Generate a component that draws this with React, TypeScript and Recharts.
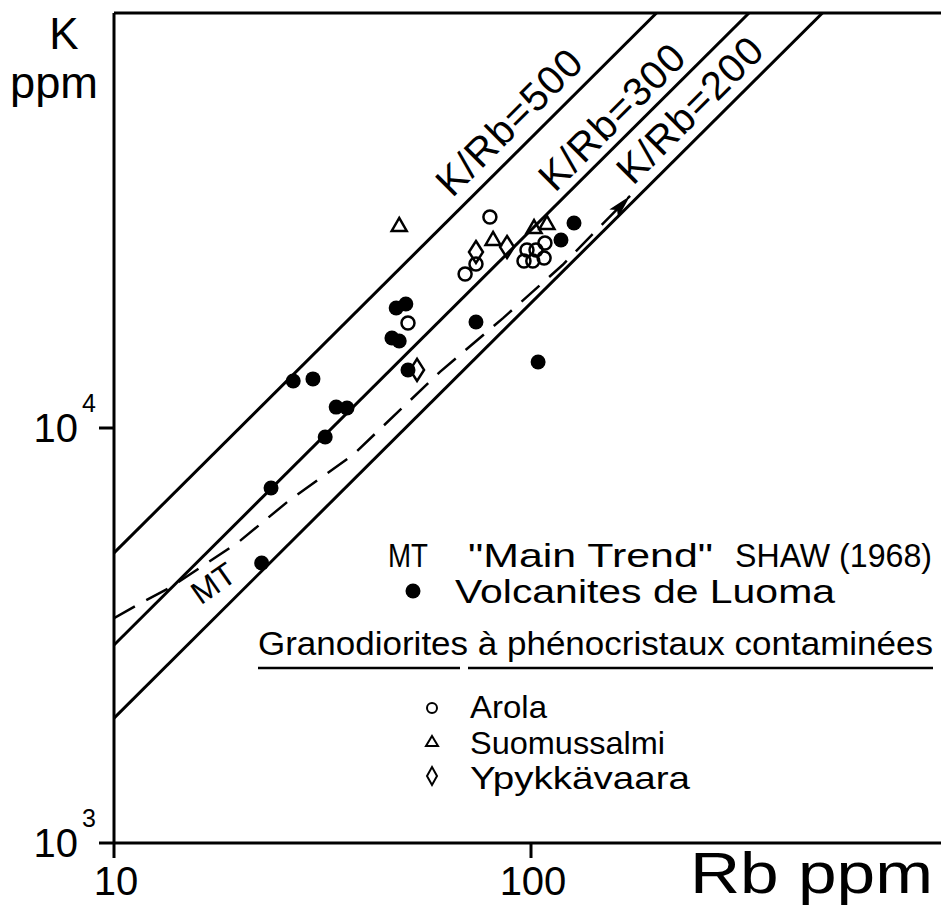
import { ScatterChart, Scatter, XAxis, YAxis, ReferenceLine, Legend } from "recharts";

const FONT = "'Liberation Sans', Arial, sans-serif";
const INK = "#000";

// Volcanites de Luoma (filled dots)
const luomaRb = [22.6, 23.8, 26.9, 30.0, 32.1, 34.1, 36.2, 46.4, 48.3, 47.5, 50.1, 50.7, 73.8, 104, 118, 126.8];
const luomaK = [4730, 7170, 12980, 13130, 9510, 11230, 11170, 16480, 16210, 19460, 19900, 13800, 18010, 14420, 28380, 31190];

// Granodiorites - Arola (open circles)
const arolaRb = [79.7, 73.8, 69.5, 50.7, 97.8, 102.8, 108, 96.2, 101, 107.5];
const arolaK = [32240, 24850, 23500, 17910, 26850, 26850, 27910, 25260, 25260, 25680];

// Granodiorites - Suomussalmi (triangles)
const suomuRb = [48.3, 81.1, 101.7, 109.2];
const suomuK = [30850, 28540, 30500, 31190];

// Granodiorites - Ypykkävaara (diamonds)
const ypykRb = [73.8, 87.6, 53.3];
const ypykK = [26550, 27300, 13800];

// "Main Trend" Shaw (1968)
const mtRb = [10, 11.5, 13.6, 19.8, 26.4, 37.4, 60.5, 85.7, 119, 172.8];
const mtK = [3480, 3770, 4120, 5290, 6710, 8610, 13650, 18400, 24700, 36230];

const ratios = [500, 300, 200];
const xTicks = [10, 100];
const yTicks = [1000, 10000];

const X_DOMAIN = [10, 1000];
const Y_DOMAIN = [1000, 100000];

// where the K/Rb captions sit (data coords)
const ratioLabelAt = [
  { rb: 88.5, k: 54600 },
  { rb: 156, k: 56200 },
  { rb: 240, k: 58400 },
];
const mtLabelAt = { rb: 17.3, k: 4230 };

const pts = (rb: number[], k: number[]) => rb.map((x, i) => ({ rb: x, k: k[i] }));

const luoma = pts(luomaRb, luomaK);
const arola = pts(arolaRb, arolaK);
const suomu = pts(suomuRb, suomuK);
const ypyk = pts(ypykRb, ypykK);
const mt = pts(mtRb, mtK);
const ratioLines = ratios.map((r) => [
  { rb: X_DOMAIN[0], k: X_DOMAIN[0] * r },
  { rb: Y_DOMAIN[1] / r, k: Y_DOMAIN[1] },
]);
const ratioLabels = ratios.map((r, i) => ({ ...ratioLabelAt[i], text: `K/Rb=${r}` }));

const Nothing = () => <g />;

const DotShape = ({ cx, cy }: any) => <circle cx={cx} cy={cy} r={7.5} fill={INK} />;
const RingShape = ({ cx, cy }: any) => (
  <circle cx={cx} cy={cy} r={6.5} fill="none" stroke={INK} strokeWidth={2.5} />
);
const TriShape = ({ cx, cy }: any) => (
  <polygon
    points={`${cx},${cy - 7} ${cx + 7.5},${cy + 6} ${cx - 7.5},${cy + 6}`}
    fill="none"
    stroke={INK}
    strokeWidth={2.5}
  />
);
const DiamondShape = ({ cx, cy }: any) => (
  <polygon
    points={`${cx},${cy - 11} ${cx + 7},${cy} ${cx},${cy + 11} ${cx - 7},${cy}`}
    fill="none"
    stroke={INK}
    strokeWidth={2.5}
  />
);

// arrow head at the end of the MT curve
const MtShape = ({ cx, cy, payload }: any) => {
  if (payload.rb !== mtRb[mtRb.length - 1]) return <g />;
  return (
    <polygon
      points="0,0 -24,-6 -19,0 -24,6"
      fill={INK}
      transform={`translate(${cx} ${cy}) rotate(-47)`}
    />
  );
};

const RatioLabel = ({ cx, cy, payload }: any) => (
  <text
    x={cx}
    y={cy}
    dy="0.35em"
    textAnchor="middle"
    transform={`rotate(-45 ${cx} ${cy})`}
    fontFamily={FONT}
    fontSize={40}
    textLength={188}
    lengthAdjust="spacing"
    fill={INK}
  >
    {payload.text}
  </text>
);

const MtLabel = ({ cx, cy }: any) => (
  <text
    x={cx}
    y={cy}
    dy="0.35em"
    textAnchor="middle"
    transform={`rotate(-35 ${cx} ${cy})`}
    fontFamily={FONT}
    fontSize={32}
    fill={INK}
  >
    MT
  </text>
);

const XTick = ({ x, y, payload }: any) => (
  <text x={x + 2} y={y + 35} textAnchor="middle" fontFamily={FONT} fontSize={40} fill={INK}>
    {payload.value}
  </text>
);

const YTick = ({ x, y, payload }: any) => (
  <g fontFamily={FONT} fill={INK}>
    <text x={x - 19} y={y + 14} textAnchor="end" fontSize={40}>
      10
    </text>
    <text x={x - 15} y={y - 16} fontSize={25}>
      {Math.round(Math.log10(payload.value))}
    </text>
  </g>
);

const XTitle = () => (
  <text x={690} y={893} fontFamily={FONT} fontSize={57} textLength={243} lengthAdjust="spacingAndGlyphs" fill={INK}>
    Rb ppm
  </text>
);

const YTitle = () => (
  <g fontFamily={FONT} fontSize={44} fill={INK}>
    <text x={64} y={49} textAnchor="middle">
      K
    </text>
    <text x={10} y={98} textLength={88} lengthAdjust="spacingAndGlyphs">
      ppm
    </text>
  </g>
);

const OX = 240;
const OY = 520;

function LegendBox() {
  const txt = (x: number, y: number, s: string, len: number, size = 33) => (
    <text
      x={x - OX}
      y={y - OY}
      fontFamily={FONT}
      fontSize={size}
      textLength={len}
      lengthAdjust="spacingAndGlyphs"
      fill={INK}
    >
      {s}
    </text>
  );
  return (
    <svg width={700} height={300} style={{ display: "block" }}>
      {txt(388, 567, "MT", 40)}
      {txt(468, 567, "\"Main Trend\"", 245)}
      {txt(735, 567, "SHAW (1968)", 197)}
      <circle cx={413 - OX} cy={591 - OY} r={7.5} fill={INK} />
      {txt(455, 603, "Volcanites de Luoma", 380)}
      {txt(258, 655, "Granodiorites à phénocristaux contaminées", 675)}
      <line x1={258 - OX} x2={460 - OX} y1={668 - OY} y2={668 - OY} stroke={INK} strokeWidth={2.5} />
      <line x1={468 - OX} x2={933 - OX} y1={668 - OY} y2={668 - OY} stroke={INK} strokeWidth={2.5} />
      <circle cx={432 - OX} cy={708 - OY} r={5} fill="none" stroke={INK} strokeWidth={2} />
      {txt(470, 718, "Arola", 77, 32)}
      <polygon
        points={`${432 - OX},${736 - OY} ${438 - OX},${746 - OY} ${426 - OX},${746 - OY}`}
        fill="none"
        stroke={INK}
        strokeWidth={2}
      />
      {txt(470, 754, "Suomussalmi", 195, 32)}
      <polygon
        points={`${432 - OX},${767 - OY} ${437 - OX},${776 - OY} ${432 - OX},${785 - OY} ${427 - OX},${776 - OY}`}
        fill="none"
        stroke={INK}
        strokeWidth={2}
      />
      {txt(470, 789, "Ypykkävaara", 220, 32)}
    </svg>
  );
}

export default function App() {
  return (
    <div
      style={{
        position: "fixed",
        left: 0,
        top: 0,
        width: 941,
        height: 907,
        overflow: "hidden",
        background: "#fff",
      }}
    >
      <ScatterChart width={941} height={907} margin={{ top: 13, right: -7, bottom: 0, left: 0 }}>
        <XAxis
          type="number"
          dataKey="rb"
          scale="log"
          domain={X_DOMAIN}
          ticks={xTicks}
          interval={0}
          allowDataOverflow
          height={64}
          tickSize={15}
          tickLine={{ stroke: INK, strokeWidth: 3 }}
          axisLine={{ stroke: INK, strokeWidth: 3 }}
          tick={<XTick />}
          label={XTitle}
        />
        <YAxis
          type="number"
          dataKey="k"
          scale="log"
          domain={Y_DOMAIN}
          ticks={yTicks}
          interval={0}
          allowDataOverflow
          width={114}
          tickSize={15}
          tickLine={{ stroke: INK, strokeWidth: 3 }}
          axisLine={{ stroke: INK, strokeWidth: 3 }}
          tick={<YTick />}
          label={YTitle}
        />
        <ReferenceLine y={Y_DOMAIN[1]} stroke={INK} strokeWidth={3} ifOverflow="visible" />
        {ratioLines.map((d, i) => (
          <Scatter
            key={ratios[i]}
            data={d}
            line={{ stroke: INK, strokeWidth: 3 }}
            shape={Nothing}
            isAnimationActive={false}
            legendType="none"
          />
        ))}
        <Scatter
          data={mt}
          line={{ stroke: INK, strokeWidth: 2.5, strokeDasharray: "24 13" }}
          shape={MtShape}
          isAnimationActive={false}
          legendType="none"
        />
        <Scatter data={ratioLabels} shape={RatioLabel} isAnimationActive={false} legendType="none" />
        <Scatter data={[mtLabelAt]} shape={MtLabel} isAnimationActive={false} legendType="none" />
        <Scatter name="Volcanites de Luoma" data={luoma} shape={DotShape} isAnimationActive={false} />
        <Scatter name="Arola" data={arola} shape={RingShape} isAnimationActive={false} />
        <Scatter name="Suomussalmi" data={suomu} shape={TriShape} isAnimationActive={false} />
        <Scatter name="Ypykkävaara" data={ypyk} shape={DiamondShape} isAnimationActive={false} />
        <Legend
          layout="horizontal"
          verticalAlign="middle"
          align="center"
          wrapperStyle={{ left: OX, top: OY, width: 700, height: 300 }}
          content={LegendBox}
        />
      </ScatterChart>
      {/* the original frame is open on the right: mask anything at the window edge */}
      <div
        style={{
          position: "absolute",
          left: 935,
          top: 16,
          width: 6,
          height: 825,
          background: "#fff",
        }}
      />
    </div>
  );
}
